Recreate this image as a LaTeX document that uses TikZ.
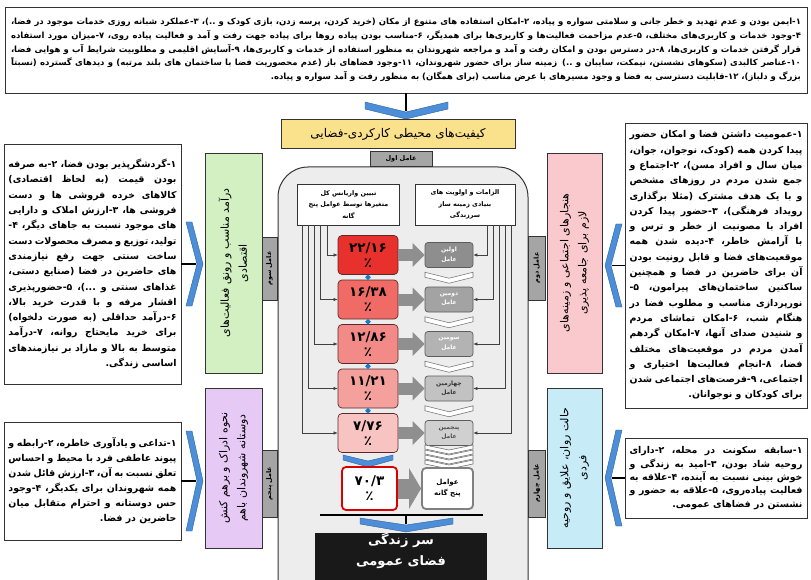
\documentclass[tikz,border=0pt]{standalone}
\usepackage{fontspec}
\usetikzlibrary{arrows.meta,shapes.geometric}
\TeXXeTstate=1
\newfontfamily\arabicfont[Script=Arabic]{DejaVu Sans}
\newcommand\fa[1]{{\arabicfont\beginR #1\endR}}
\newcommand\fapar[1]{\parindent=0pt\lineskiplimit=-30pt\lineskip=0pt\leavevmode\beginR #1\par}
\definecolor{chevblue}{HTML}{4C8FD8}
\definecolor{chevedge}{HTML}{2D5F9A}
\definecolor{panelfill}{HTML}{EDEDED}
\definecolor{tabfill}{HTML}{A5A5A5}
\definecolor{titlefill}{HTML}{FAE28C}
\definecolor{greenfill}{HTML}{D3F0C2}
\definecolor{purplefill}{HTML}{E6C9F5}
\definecolor{pinkfill}{HTML}{F9C9CD}
\definecolor{cyanfill}{HTML}{C8EBF8}
\definecolor{redA}{HTML}{E8302D}
\definecolor{redB}{HTML}{F06B66}
\definecolor{redC}{HTML}{F28B87}
\definecolor{redD}{HTML}{F4A09C}
\definecolor{redE}{HTML}{F8C4C1}
\definecolor{grayA}{HTML}{8E8E8E}
\definecolor{grayB}{HTML}{A3A3A3}
\definecolor{grayC}{HTML}{B3B3B3}
\definecolor{grayD}{HTML}{C2C2C2}
\definecolor{grayE}{HTML}{D0D0D0}
\definecolor{arrowgray}{HTML}{8F8F8F}
\definecolor{edge}{HTML}{333333}
\tikzset{
  parabox/.style={draw=edge, line width=0.8pt, fill=white, inner sep=0pt, align=justify,
    font=\arabicfont\bfseries\fontsize{9.4}{15.3}\selectfont},
  vlabel/.style={draw=edge, line width=0.8pt, align=center, inner sep=2pt, rotate=90,
    font=\arabicfont\fontsize{11}{18}\selectfont},
  tabbox/.style={draw=edge, line width=0.7pt, fill=tabfill, inner sep=1pt, align=center,
    font=\arabicfont\bfseries\fontsize{6.5}{8}\selectfont},
  headbox/.style={draw=edge, line width=0.8pt, fill=white, inner sep=1pt, align=center,
    minimum width=102pt, minimum height=41pt, font=\arabicfont\bfseries\fontsize{6.4}{11.5}\selectfont},
  pctbox/.style={draw=edge!80!red, line width=0.7pt, rounded corners=4pt, minimum width=60pt,
    minimum height=39pt, inner sep=0pt, align=center, font=\arabicfont\bfseries\fontsize{13.5}{15}\selectfont},
  facbox/.style={draw=edge!80, line width=0.7pt, rounded corners=3pt, minimum width=48pt,
    minimum height=25pt, inner sep=0pt, align=center, font=\arabicfont\bfseries\fontsize{6}{9.5}\selectfont},
  chevron/.style={fill=chevblue, draw=chevedge, line width=0.4pt},
  whitechev/.style={fill=white, draw=black!55, line width=0.6pt},
  conn/.style={draw=black!75, line width=0.6pt, -{Latex[length=4pt,width=3.5pt]}},
  fatarrow/.style={draw=arrowgray, line width=12pt, -{Triangle[length=12pt,width=23pt]}},
  dot/.style={diamond, fill=cyan!60!blue, inner sep=0pt, minimum size=6pt}
}
\begin{document}
\begin{tikzpicture}[x=1pt,y=-1pt]
\path[use as bounding box, fill=white] (0,0) rectangle (811,580);

% ---------- top box ----------
\node[parabox, text width=790pt, minimum width=802pt, minimum height=86pt,
  font=\arabicfont\bfseries\fontsize{8.5}{13.8}\selectfont] (tb) at (406,50) {\fapar{۱-ایمن بودن و عدم تهدید و خطر جانی و سلامتی سواره و پیاده، ۲-امکان استفاده های متنوع از مکان (خرید کردن، پرسه زدن، بازی کودک و ..)، ۳-عملکرد شبانه روزی خدمات موجود در فضا، ۴-وجود خدمات و کاربری‌های مختلف، ۵-عدم مزاحمت فعالیت‌ها و کاربری‌ها برای همدیگر، ۶-مناسب بودن پیاده روها برای پیاده جهت رفت و آمد و فعالیت پیاده روی، ۷-میزان مورد استفاده قرار گرفتن خدمات و کاربری‌ها، ۸-در دسترس بودن و امکان رفت و آمد و مراجعه شهروندان به منظور استفاده از خدمات و کاربری‌ها، ۹-آسایش اقلیمی و مطلوبیت شرایط آب و هوایی فضا، ۱۰-عناصر کالبدی (سکوهای نشستن، نیمکت، سایبان و ..) زمینه ساز برای حضور شهروندان، ۱۱-وجود فضاهای باز (عدم محصوریت فضا با ساختمان های بلند مرتبه) و دیدهای گسترده (نسبتاً بزرگ و دلباز)، ۱۲-قابلیت دسترسی به فضا و وجود مسیرهای با عرض مناسب (برای همگان) به منظور رفت و آمد سواره و پیاده.}};

% ---------- top chevron and title ----------
\coordinate (tcv) at (406,111);
\draw[line width=1.4pt] (tb.south) -- (tcv);
\draw[chevron] (365,102) -- (406,112) -- (448,102) -- (448,109) -- (406,119) -- (365,109) -- cycle;
\node[draw=edge, line width=0.8pt, fill=titlefill, minimum width=234pt, minimum height=29pt, inner sep=0pt,
  font=\arabicfont\fontsize{12}{14}\selectfont] (title) at (398,134) {\fa{کیفیت‌های محیطی کارکردی-فضایی}};

% ---------- central panel ----------
\draw[fill=panelfill, draw=edge, line width=1pt, rounded corners=30pt] (278,167) rectangle (528,610);
\node[tabbox, minimum width=62pt, minimum height=15pt] (t1) at (401,158.5) {\fa{عامل اول}};

\node[headbox] (lh) at (348.5,204.5) {\fa{تبیین واریانس کل}\\\fa{متغیرها توسط عوامل پنج}\\\fa{گانه}};
\node[headbox, minimum width=100pt] (rh) at (465,204.5) {\fa{الزامات و اولویت های}\\\fa{بنیادی زمینه ساز}\\\fa{سرزندگی}};

% percentage boxes
\node[pctbox, fill=redA] (r1) at (368,255) {۲۲/۱۶\\٪};
\node[pctbox, fill=redB] (r2) at (368,299.5) {۱۶/۳۸\\٪};
\node[pctbox, fill=redC] (r3) at (368,344) {۱۲/۸۶\\٪};
\node[pctbox, fill=redD] (r4) at (368,388.5) {۱۱/۲۱\\٪};
\node[pctbox, fill=redE] (r5) at (368,433) {۷/۷۶\\٪};

% factor boxes
\node[facbox, fill=grayA, text=white] (g1) at (449,255) {\fa{اولین}\\\fa{عامل}};
\node[facbox, fill=grayB, text=white] (g2) at (449,299.5) {\fa{دومین}\\\fa{عامل}};
\node[facbox, fill=grayC, text=white] (g3) at (449,344) {\fa{سومین}\\\fa{عامل}};
\node[facbox, fill=grayD, text=black!80] (g4) at (449,388.5) {\fa{چهارمین}\\\fa{عامل}};
\node[facbox, fill=grayE, text=black!70] (g5) at (449,433) {\fa{پنجمین}\\\fa{عامل}};

% fat arrows
\foreach \i in {1,...,5} {\draw[fatarrow] (r\i.east) -- (g\i.west);}

% blue dots between red boxes
\node[dot] (d1) at (368,277.25) {};
\node[dot] (d2) at (368,321.75) {};
\node[dot] (d3) at (368,366.25) {};
\node[dot] (d4) at (368,410.75) {};

% white chevrons between factor boxes
\foreach \m in {277.25,321.75,366.25,410.75} {
  \draw[whitechev] (425,\m-5) -- (449,\m+1) -- (473,\m-5) -- (473,\m) -- (449,\m+6) -- (425,\m) -- cycle;
}
\foreach \m in {449,454,459,464} {
  \draw[whitechev] (425,\m-4) -- (449,\m+1) -- (473,\m-4) -- (473,\m) -- (449,\m+5) -- (425,\m) -- cycle;
}

% connectors from left header
\coordinate (la1) at (327,225);
\coordinate (la2) at (320,225);
\coordinate (la3) at (314,225);
\coordinate (la4) at (308,225);
\coordinate (la5) at (302,225);
\foreach \i in {1,...,5} {\draw[conn] (la\i) |- (r\i.west);}
% connectors from right header
\coordinate (ra1) at (487,225);
\coordinate (ra2) at (493,225);
\coordinate (ra3) at (499,225);
\coordinate (ra4) at (505,225);
\coordinate (ra5) at (511,225);
\foreach \i in {1,...,5} {\draw[conn] (ra\i) |- (g\i.east);}

% blue chevron under red boxes
\draw[chevron] (343,455) -- (368,461) -- (393,455) -- (393,460) -- (368,467) -- (343,460) -- cycle;

% total boxes
\node[draw=red!85!black, line width=1.8pt, fill=white, rounded corners=4pt, minimum width=55pt, minimum height=43pt,
  inner sep=0pt, align=center, font=\arabicfont\bfseries\fontsize{13.5}{15}\selectfont] (f1) at (369.5,488.5) {۷۰/۳\\٪};
\node[draw=black!50, line width=1.8pt, fill=white, rounded corners=4pt, minimum width=51pt, minimum height=41pt,
  inner sep=0pt, align=center, font=\arabicfont\bfseries\fontsize{7}{11}\selectfont] (f2) at (447.5,488.5) {\fa{عوامل}\\\fa{پنج گانه}};
\draw[draw=arrowgray, line width=20pt, -{Triangle[length=12pt,width=40pt]}] (f1.east) -- (f2.west);

% bottom bar, chevron and black box
\coordinate (hl) at (320,515);
\coordinate (hr) at (483,515);
\coordinate (hm) at (406,515);
\coordinate (bv) at (406,524);
\draw[line width=1.4pt] (hl) -- (hr);
\draw[line width=1.4pt] (hm) -- (bv);
\draw[chevron] (360,518) -- (406,525) -- (453,518) -- (453,524) -- (406,532) -- (360,524) -- cycle;
\node[fill=black!90, minimum width=172pt, minimum height=60pt, inner sep=0pt, align=center, text=white,
  font=\arabicfont\bfseries\fontsize{13}{21}\selectfont] (bb) at (401,563) {\fa{سر زندگی}\\\fa{فضای عمومی}\\[6pt]};

% ---------- left side ----------
\node[parabox, text width=168pt, minimum width=177pt, minimum height=240pt] (lt) at (92.5,264) {\fapar{۱-گردشگرپذیر بودن فضا، ۲-به صرفه بودن قیمت (به لحاظ اقتصادی) کالاهای خرده فروشی ها و دست فروشی ها، ۳-ارزش املاک و دارایی های موجود نسبت به جاهای دیگر، ۴-تولید، توزیع و مصرف محصولات دست ساخت سنتی جهت رفع نیازمندی های حاضرین در فضا (صنایع دستی، غذاهای سنتی و ...)، ۵-حضورپذیری اقشار مرفه و با قدرت خرید بالا، ۶-درآمد حداقلی (به صورت دلخواه) برای خرید مایحتاج روانه، ۷-درآمد متوسط به بالا و مازاد بر نیازمندهای اساسی زندگی.}};
\coordinate (lc1) at (196,264);
\draw[line width=1.4pt] (lt.east) -- (lc1);
\draw[chevron] (186,222) -- (197,264) -- (186,306) -- (192,306) -- (203,264) -- (192,222) -- cycle;
\node[vlabel, fill=greenfill, minimum width=220pt, minimum height=57pt] (gb) at (233.5,263) {\fa{درآمد مناسب و رونق فعالیت‌های}\\\fa{اقتصادی}};
\node[tabbox, rotate=90, minimum width=63pt, minimum height=15pt] (t3) at (269.5,268.5) {\fa{عامل سوم}};

\node[parabox, text width=168pt, minimum width=177pt, minimum height=118pt,
  font=\arabicfont\bfseries\fontsize{9.4}{15}\selectfont] (lb) at (92.5,481) {\fapar{۱-تداعی و یادآوری خاطره، ۲-رابطه و پیوند عاطفی فرد با محیط و احساس تعلق نسبت به آن، ۳-ارزش قائل شدن همه شهروندان برای یکدیگر، ۴-وجود حس دوستانه و احترام متقابل میان حاضرین در فضا.}};
\coordinate (lc2) at (196,481);
\draw[line width=1.4pt] (lb.east) -- (lc2);
\draw[chevron] (186,431) -- (197,481) -- (186,531) -- (192,531) -- (203,481) -- (192,431) -- cycle;
\node[vlabel, fill=purplefill, minimum width=160pt, minimum height=57pt] (pb) at (233.5,468) {\fa{نحوه ادراک و برهم کنش}\\\fa{دوستانه شهروندان باهم}};
\node[tabbox, rotate=90, minimum width=67pt, minimum height=15pt] (t5) at (269.5,483.5) {\fa{عامل پنجم}};

% ---------- right side ----------
\node[parabox, text width=173pt, minimum width=182pt, minimum height=285pt] (rt) at (716,265.5) {\fapar{۱-عمومیت داشتن فضا و امکان حضور پیدا کردن همه (کودک، نوجوان، جوان، میان سال و افراد مسن)، ۲-اجتماع و جمع شدن مردم در روزهای مشخص و با یک هدف مشترک (مثلا برگذاری رویداد فرهنگی)، ۳-حضور پیدا کردن افراد با مصونیت از خطر و ترس و با آرامش خاطر، ۴-دیده شدن همه موقعیت‌های فضا و قابل رونیت بودن آن برای حاضرین در فضا و همچنین ساکنین ساختمان‌های پیرامون، ۵-نورپردازی مناسب و مطلوب فضا در هنگام شب، ۶-امکان تماشای مردم و شنیدن صدای آنها، ۷-امکان گردهم آمدن مردم در موقعیت‌های مختلف فضا، ۸-انجام فعالیت‌ها اختیاری و اجتماعی، ۹-فرصت‌های اجتماعی شدن برای کودکان و نوجوانان.}};
\coordinate (rc1) at (612,265.5);
\draw[line width=1.4pt] (rt.west) -- (rc1);
\draw[chevron] (622,224) -- (611,265.5) -- (622,307) -- (616,307) -- (605,265.5) -- (616,224) -- cycle;
\node[vlabel, fill=pinkfill, minimum width=220pt, minimum height=55pt] (kb) at (574.5,263) {\fa{هنجارهای اجتماعی و زمینه‌های}\\\fa{لازم برای جامعه پذیری}};
\node[tabbox, rotate=90, minimum width=64pt, minimum height=17pt] (t2) at (537,268) {\fa{عامل دوم}};

\node[parabox, text width=173pt, minimum width=182pt, minimum height=80pt,
  font=\arabicfont\bfseries\fontsize{9.4}{13.3}\selectfont] (rb) at (716,478) {\fapar{۱-سابقه سکونت در محله، ۲-دارای روحیه شاد بودن، ۳-امید به زندگی و خوش بینی نسبت به آینده، ۴-علاقه به فعالیت پیاده‌روی، ۵-علاقه به حضور و نشستن در فضاهای عمومی.}};
\coordinate (rc2) at (612,478);
\draw[line width=1.4pt] (rb.west) -- (rc2);
\draw[chevron] (622,430) -- (611,478) -- (622,526) -- (616,526) -- (605,478) -- (616,430) -- cycle;
\node[vlabel, fill=cyanfill, minimum width=160pt, minimum height=55pt] (cb) at (574.5,468) {\fa{حالت روان، علایق و روحیه}\\\fa{فردی}};
\node[tabbox, rotate=90, minimum width=67pt, minimum height=17pt] (t4) at (537,483.5) {\fa{عامل چهارم}};
\end{tikzpicture}
\end{document}
